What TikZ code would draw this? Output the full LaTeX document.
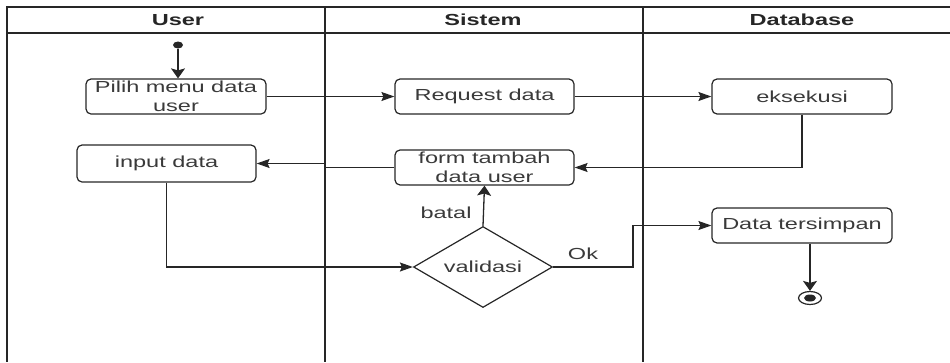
\documentclass[tikz,border=0pt]{standalone}
\usepackage{fontspec}
\setmainfont{Liberation Sans}[FakeStretch=1.47]
\usetikzlibrary{arrows.meta,shapes.geometric}
\definecolor{ink}{HTML}{262626}
\definecolor{txt}{HTML}{3A3A3A}

\begin{document}
\begin{tikzpicture}[x=1pt,y=-1pt,
  every node/.style={font=\fontsize{16}{19}\selectfont, text=txt},
  lane/.style={draw=ink, line width=1.5pt},
  act/.style={draw=ink, line width=1.2pt, rounded corners=5pt,
    minimum width=180pt, minimum height=35pt, inner sep=0pt, align=center},
  decision/.style={draw=ink, line width=1.2pt, diamond, aspect=1.716,
    minimum width=139pt, minimum height=81pt, inner sep=0pt},
  flow/.style={draw=ink, line width=1.3pt},
  harr/.style={flow, -{Stealth[length=13pt,width=9pt,inset=2pt]}},
  varr/.style={flow, -{Stealth[length=10pt,width=14pt,inset=2pt]}},
  head/.style={font=\bfseries\fontsize{16}{19}\selectfont, text=ink},
  lbl/.style={inner sep=0pt}
]
\useasboundingbox (0,0) rectangle (950,362);

% swimlane frame
\draw[lane] (950,7) -- (7,7) -- (7,362);
\draw[lane] (7,33) -- (950,33);
\draw[lane] (325,7) -- (325,362);
\draw[lane] (643,7) -- (643,362);
\node[head] (hUser) at (178,20) {User};
\node[head] (hSistem) at (483,20) {Sistem};
\node[head] (hDb) at (802,20) {Database};

% activities
\node[ellipse, fill=ink, minimum width=10pt, minimum height=7pt, inner sep=0pt] (start) at (178,45) {};
\node[act] (pilih) at (176,96.5) {Pilih menu data\\user};
\node[act, minimum width=179pt] (request) at (484.5,96.5) {Request data};
\node[act] (eksekusi) at (802,96.5) {eksekusi};
\node[act, minimum width=179pt, minimum height=37pt] (input) at (166.5,163.5) {input data};
\node[act, minimum width=179pt] (form) at (484.5,167.5) {form tambah\\data user};
\node[decision] (val) at (483,267) {validasi};
\node[act] (simpan) at (802,225.5) {Data tersimpan};
\node[ellipse, draw=ink, line width=1.2pt, minimum width=23pt, minimum height=13pt, inner sep=0pt] (fin) at (810,298) {};
\node[ellipse, fill=ink, minimum width=12pt, minimum height=7pt, inner sep=0pt] (finDot) at (810,298) {};

% bend points
\coordinate (jog) at (325,165);
\coordinate (okbend) at (633,245);

% flows
\draw[varr] (start) -- (start |- pilih.north);
\draw[harr] (pilih.east) -- (request.west);
\draw[harr] (request.east) -- (eksekusi.west);
\draw[harr] (eksekusi.south) |- (form.east);
\draw[harr] (form.west) -| (jog) |- (input.east);
\draw[harr] (input.south) |- (val.west);
\draw[varr] (val.north) -- (form.south);
\draw[harr] (val.east) -| (okbend) |- (simpan.west);
\draw[varr] (fin |- simpan.south) -- (fin.north);

% guard labels
\node[lbl] (batal) at (446,213) {batal};
\node[lbl] (ok) at (583,254) {Ok};
\end{tikzpicture}
\end{document}
